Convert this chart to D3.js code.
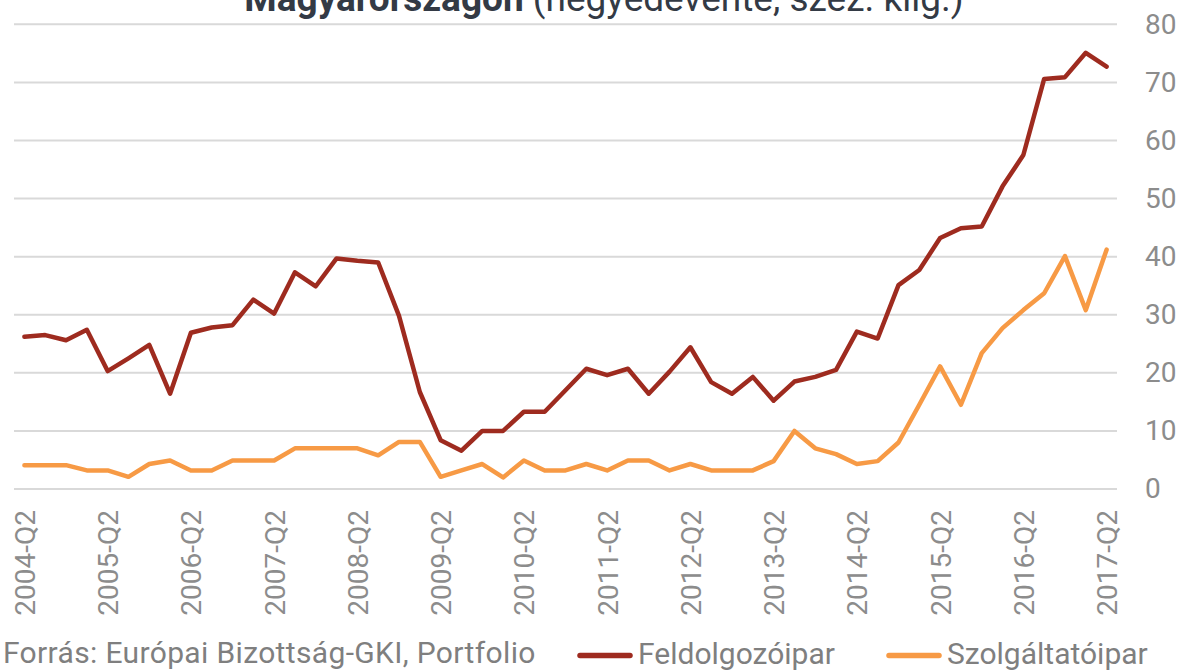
<!DOCTYPE html>
<html>
<head>
<meta charset="utf-8">
<script src="https://cdn.jsdelivr.net/npm/d3@7"></script>
<style>
  html, body { margin: 0; padding: 0; background: #fff; }
  svg { display: block; font-family: Roboto, "Noto Sans", sans-serif; }
</style>
</head>
<body>
<div id="chart"></div>
<script>
// quarters 2004-Q2 .. 2017-Q2
const quarters = [
  "2004-Q2","2004-Q3","2004-Q4","2005-Q1","2005-Q2","2005-Q3","2005-Q4","2006-Q1",
  "2006-Q2","2006-Q3","2006-Q4","2007-Q1","2007-Q2","2007-Q3","2007-Q4","2008-Q1",
  "2008-Q2","2008-Q3","2008-Q4","2009-Q1","2009-Q2","2009-Q3","2009-Q4","2010-Q1",
  "2010-Q2","2010-Q3","2010-Q4","2011-Q1","2011-Q2","2011-Q3","2011-Q4","2012-Q1",
  "2012-Q2","2012-Q3","2012-Q4","2013-Q1","2013-Q2","2013-Q3","2013-Q4","2014-Q1",
  "2014-Q2","2014-Q3","2014-Q4","2015-Q1","2015-Q2","2015-Q3","2015-Q4","2016-Q1",
  "2016-Q2","2016-Q3","2016-Q4","2017-Q1","2017-Q2"
];

const tickLabels = [
  "2004-Q2","2005-Q2","2006-Q2","2007-Q2","2008-Q2","2009-Q2","2010-Q2",
  "2011-Q2","2012-Q2","2013-Q2","2014-Q2","2015-Q2","2016-Q2","2017-Q2"
];

// Feldolgozóipar
const feldolgozo = [
  26.2, 26.5, 25.6, 27.4, 20.3, 22.5, 24.8, 16.4,
  26.9, 27.8, 28.2, 32.6, 30.2, 37.3, 34.9, 39.7,
  39.3, 39.0, 29.8, 16.7, 8.4, 6.6, 10.0, 10.0,
  13.3, 13.3, 17.0, 20.7, 19.6, 20.7, 16.4, 20.2,
  24.4, 18.4, 16.4, 19.3, 15.2, 18.5, 19.3, 20.5,
  27.1, 25.9, 35.1, 37.7, 43.2, 44.9, 45.2, 52.1,
  57.5, 70.6, 70.9, 75.1, 72.7
];

// Szolgáltatóipar
const szolgaltato = [
  4.1, 4.1, 4.1, 3.2, 3.2, 2.1, 4.3, 4.9,
  3.2, 3.2, 4.9, 4.9, 4.9, 7.0, 7.0, 7.0,
  7.0, 5.8, 8.1, 8.1, 2.1, 3.2, 4.3, 2.0,
  4.9, 3.2, 3.2, 4.3, 3.2, 4.9, 4.9, 3.2,
  4.3, 3.2, 3.2, 3.2, 4.8, 10.0, 7.0, 6.0,
  4.3, 4.8, 8.0, 14.5, 21.1, 14.5, 23.4, 27.7,
  30.8, 33.7, 40.1, 30.8, 41.2
];

const yTicks = [0, 10, 20, 30, 40, 50, 60, 70, 80];

const seriesNames = ["Feldolgozóipar", "Szolgáltatóipar"];
const seriesColors = ["#9e2b1f", "#f79a45"];

const width = 1180;
const height = 672;

const svg = d3.select("#chart")
  .append("svg")
  .attr("width", width)
  .attr("height", height);

// scales
const x = d3.scalePoint().domain(quarters).range([14, 1117]).padding(0.5);
const y = d3.scaleLinear().domain([0, 80]).range([489, 24.3]);

const gray = "#8c8c8c";

// title (cut off at the top in the original)
const title = svg.append("text")
  .attr("x", 604)
  .attr("y", 11)
  .attr("text-anchor", "middle")
  .attr("fill", "#333a45")
  .style("font-size", "37px");
title.append("tspan").attr("font-weight", "bold").text("Magyarországon ");
title.append("tspan").text("(negyedévente, szez. kiig.)");

// grid
svg.append("g")
  .selectAll("line")
  .data(yTicks)
  .join("line")
  .attr("x1", 14)
  .attr("x2", 1117)
  .attr("y1", d => y(d))
  .attr("y2", d => y(d))
  .attr("stroke", "#d9d9d9")
  .attr("stroke-width", 2);

// y axis on the right
const yAxis = svg.append("g")
  .attr("transform", "translate(1140,0)")
  .call(d3.axisRight(y).tickValues(yTicks).tickSize(0).tickPadding(5));
yAxis.select(".domain").remove();
yAxis.selectAll("text")
  .attr("fill", gray)
  .style("font-size", "28px")
  .style("font-family", "Roboto, sans-serif");

// x axis labels
const xAxis = svg.append("g")
  .attr("transform", "translate(0,489)")
  .call(d3.axisBottom(x).tickValues(tickLabels).tickSize(0));
xAxis.select(".domain").remove();
xAxis.selectAll("text")
  .attr("fill", gray)
  .attr("transform", "rotate(-90)")
  .attr("text-anchor", "end")
  .attr("x", -21)
  .attr("y", 0)
  .attr("dy", "0.36em")
  .style("font-size", "28px")
  .style("font-family", "Roboto, sans-serif");

// lines
const line = d3.line()
  .x((d, i) => x(quarters[i]))
  .y(d => y(d))
  .curve(d3.curveLinear);

[feldolgozo, szolgaltato].forEach((vals, k) => {
  svg.append("path")
    .datum(vals)
    .attr("fill", "none")
    .attr("stroke", seriesColors[k])
    .attr("stroke-width", 4.5)
    .attr("stroke-linejoin", "round")
    .attr("stroke-linecap", "round")
    .attr("d", line);
});

// footer source
svg.append("text")
  .attr("x", 3)
  .attr("y", 663)
  .attr("fill", "#7f7f7f")
  .style("font-size", "30px")
  .style("letter-spacing", "0.35px")
  .text("Forrás: Európai Bizottság-GKI, Portfolio");

// legend
const legendX = [638, 947];
const legend = svg.append("g")
  .selectAll("g")
  .data(seriesNames)
  .join("g")
  .attr("transform", (d, i) => `translate(${legendX[i]},664)`);

legend.append("line")
  .attr("x1", -58)
  .attr("x2", -8)
  .attr("y1", -8.5)
  .attr("y2", -8.5)
  .attr("stroke", (d, i) => seriesColors[i])
  .attr("stroke-width", 5.5)
  .attr("stroke-linecap", "round");

legend.append("text")
  .attr("x", 0)
  .attr("y", 0)
  .attr("fill", "#7f7f7f")
  .style("font-size", "30px")
  .text(d => d);
</script>
</body>
</html>
